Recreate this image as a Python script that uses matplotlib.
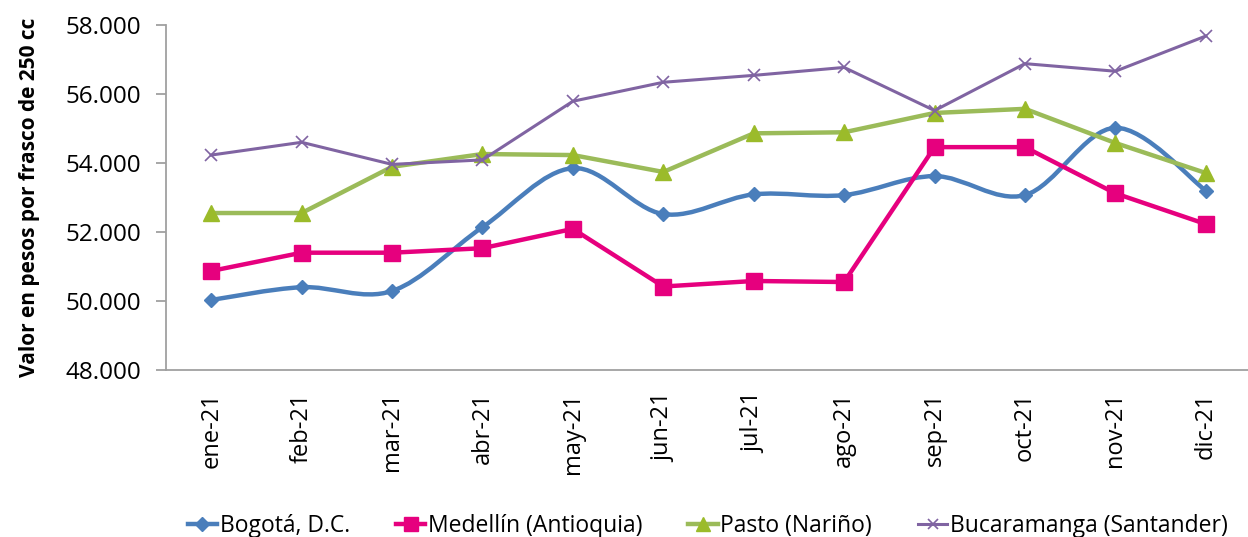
import matplotlib.pyplot as plt
import numpy as np
from matplotlib.path import Path
from matplotlib.patches import PathPatch
from matplotlib.lines import Line2D
from matplotlib.ticker import FuncFormatter

plt.rcParams['font.family'] = ['Open Sans', 'DejaVu Sans']

# --- data ---
months = ["ene-21", "feb-21", "mar-21", "abr-21", "may-21", "jun-21",
          "jul-21", "ago-21", "sep-21", "oct-21", "nov-21", "dic-21"]
bogota = [50030, 50400, 50290, 52140, 53850, 52520, 53090, 53070, 53620, 53070, 55020, 53200]
medellin = [50870, 51400, 51400, 51530, 52090, 50420, 50580, 50550, 54460, 54460, 53120, 52230]
pasto = [52550, 52550, 53890, 54260, 54230, 53740, 54860, 54890, 55450, 55570, 54580, 53710]
bucaramanga = [54230, 54600, 53960, 54090, 55790, 56340, 56540, 56770, 55520, 56880, 56660, 57680]

c_bog = "#4A7EBB"
c_med = "#E6007E"
c_pas_line = "#9BBB59"
c_pas_mark = "#9BBB2A"
c_buc = "#8064A2"


def smooth_path(x, y):
    # Excel-style smoothed line: cubic bezier through the points
    pts = np.column_stack([x, y]).astype(float)
    n = len(pts)
    verts = [pts[0]]
    codes = [Path.MOVETO]
    for i in range(n - 1):
        p0 = pts[i - 1] if i > 0 else pts[i]
        p1 = pts[i]
        p2 = pts[i + 1]
        p3 = pts[i + 2] if i + 2 < n else pts[i + 1]
        verts += [p1 + (p2 - p0) / 6, p2 - (p3 - p1) / 6, p2]
        codes += [Path.CURVE4] * 3
    return Path(verts, codes)


fig = plt.figure(figsize=(12.48, 5.37), dpi=100)
ax = fig.add_axes([166 / 1248, 1 - 370 / 537, 1085 / 1248, 345 / 537])

x = np.arange(len(months))

# Bogotá: smoothed line
ax.add_patch(PathPatch(smooth_path(x, bogota), facecolor="none", edgecolor=c_bog,
                       lw=3.2, capstyle="round", joinstyle="round", zorder=2))
ax.plot(x, bogota, ls="none", marker="D", ms=7.5, color=c_bog, zorder=3)

ax.plot(x, medellin, color=c_med, lw=3.2, marker="s", ms=11, zorder=4)
ax.plot(x, pasto, color=c_pas_line, lw=3.2, marker="^", ms=11,
        mfc=c_pas_mark, mec=c_pas_mark, zorder=5)
ax.plot(x, bucaramanga, color=c_buc, lw=2.2, marker="x", ms=8, mew=1.2, zorder=6)

ax.set_xlim(-0.5, len(months) - 0.5)
ax.set_ylim(48000, 58000)
ax.set_yticks(np.arange(48000, 58001, 2000))
ax.yaxis.set_major_formatter(FuncFormatter(lambda v, p: f"{int(v):,}".replace(",", ".")))
ax.set_xticks(x)
ax.set_xticklabels(months, rotation=90)

for s in ["top", "right"]:
    ax.spines[s].set_visible(False)
for s in ["left", "bottom"]:
    ax.spines[s].set_color("#A0A0A0")
    ax.spines[s].set_linewidth(1.3)
ax.tick_params(axis="y", length=7, width=1.3, color="#A0A0A0", labelsize=17.5, pad=11)
ax.tick_params(axis="x", length=0, labelsize=17, pad=16)

ax.set_ylabel("Valor en pesos por frasco de 250 cc", fontsize=15, fontweight="bold", labelpad=18)

handles = [
    Line2D([], [], color=c_bog, lw=3.2, marker="D", ms=7),
    Line2D([], [], color=c_med, lw=3.2, marker="s", ms=10),
    Line2D([], [], color=c_pas_line, lw=3.2, marker="^", ms=10, mfc=c_pas_mark, mec=c_pas_mark),
    Line2D([], [], color=c_buc, lw=2.2, marker="x", ms=7, mew=1.2),
]
labels = ["Bogotá, D.C.", "Medellín (Antioquia)", "Pasto (Nariño)", "Bucaramanga (Santander)"]
fig.legend(handles, labels, loc="center", bbox_to_anchor=(0.567, 1 - 526 / 537), ncol=4,
           frameon=False, fontsize=16.5, handlelength=1.3, handletextpad=0.1,
           columnspacing=2.0, borderaxespad=0)

fig.savefig("out.png", dpi=100)
